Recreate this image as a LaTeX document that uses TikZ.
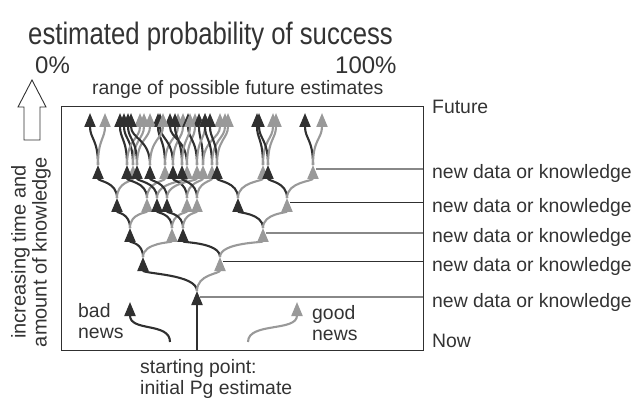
\documentclass[tikz,border=0pt]{standalone}
\usepackage{fontspec}
\setmainfont{Liberation Sans}
\newfontfamily\titlefont{Liberation Sans}[FakeStretch=0.83]
\usetikzlibrary{arrows.meta,calc}
\definecolor{dk}{HTML}{303030}
\definecolor{lg}{HTML}{999999}
\definecolor{tx}{HTML}{333333}
\definecolor{hl}{HTML}{888888}
\newcommand\seg[3]{%
  \path ($(#2)!0.5!(#3)$) coordinate (mid);
  \draw[#1] (#2) .. controls (#2 |- mid) and (#3 |- mid) .. (#3);}
\newcommand\kid[5]{\coordinate (#2) at (#3,#4); \seg{#5}{#1}{#2}}
\begin{document}
\begin{tikzpicture}[x=1pt,y=-1pt,
  blk/.style={draw=dk,line width=2.1pt,-{Triangle[width=11pt,length=14pt]}},
  gry/.style={draw=lg,line width=2.1pt,-{Triangle[width=11pt,length=14pt]}},
  lab/.style={font=\fontsize{19.4}{21}\selectfont,text=tx,inner sep=0pt},
  big/.style={font=\fontsize{24}{26}\selectfont,text=tx,inner sep=0pt},
  frame/.style={draw=dk,line width=1pt},
  hgry/.style={draw=hl,line width=1.2pt},
  hblk/.style={draw=dk,line width=1pt}]
\useasboundingbox (0,0) rectangle (632,398);
% frame
\coordinate (f1) at (61,107);
\coordinate (f2) at (423,350);
\draw[frame] (f1) rectangle (f2);
% texts
\node[anchor=base west,text=tx,inner sep=0pt,font=\titlefont\fontsize{31}{33}\selectfont] (title) at (28,45) {estimated probability of success};
\node[big,anchor=base west] (p0) at (35,74) {0\%};
\node[big,anchor=base west] (p100) at (335,74) {100\%};
\node[lab,anchor=base west] (range) at (92,95) {range of possible future estimates};
\node[lab,anchor=base west] (fut) at (432,114) {Future};
\node[lab,anchor=base west] (now) at (432,347) {Now};
\node[lab,anchor=base west] (d1) at (432,178.5) {new data or knowledge};
\node[lab,anchor=base west] (d2) at (432,212.5) {new data or knowledge};
\node[lab,anchor=base west] (d3) at (432,242.5) {new data or knowledge};
\node[lab,anchor=base west] (d4) at (432,271.5) {new data or knowledge};
\node[lab,anchor=base west] (d5) at (432,307.5) {new data or knowledge};
\node[lab,anchor=base west,align=left] (bad) at (78,338) {bad\\news};
\node[lab,anchor=base west,align=left] (good) at (312,340) {good\\news};
\node[lab,anchor=base west,align=left] (sp) at (140,394) {starting point:\\initial Pg estimate};
\node[font=\fontsize{20}{21}\selectfont,text=tx,inner sep=0pt,rotate=90,align=center] (inc) at (31,252) {increasing time and\\amount of knowledge};
% open arrow
\draw[draw=dk,line width=0.9pt,fill=white] (24,140) -- (24,107) -- (18,107) -- (32,80) -- (46,107) -- (40,107) -- (40,140) -- cycle;
% bad / good news arrows
\coordinate (bn0) at (170,342); \coordinate (bn1) at (130,302);
\coordinate (gn0) at (248,342); \coordinate (gn1) at (297,302);
\draw[blk] (bn0) .. controls (170,322) and (130,332) .. (bn1);
\draw[gry] (gn0) .. controls (248,322) and (297,332) .. (gn1);
% tree
\coordinate (s0) at (197,350);
\coordinate (n) at (197,291);
% horizontal lines
\coordinate (r5) at (423,297); \coordinate (r4) at (423,262);
\coordinate (r3) at (423,233); \coordinate (r2) at (423,203);
\coordinate (r1) at (423,169);
\draw[hgry] (r5) -- ($(n |- r5)+(3,0)$);
\kid{n}{B}{143}{257}{blk} \kid{n}{G}{220}{257}{gry}
\draw[hblk] (r4) -- ($(G |- r4)+(3,0)$);
\draw[blk] (s0) -- (n);
\kid{B}{BB}{130}{228}{blk} \kid{B}{BG}{172}{228}{gry}
\kid{G}{GB}{183}{228}{blk} \kid{G}{GG}{263}{228}{gry}
\draw[hgry] (r3) -- ($(GG |- r3)+(3,0)$);
\kid{BB}{BBB}{117}{198}{blk} \kid{BB}{BBG}{147}{198}{gry}
\kid{BG}{BGB}{157}{198}{blk} \kid{BG}{BGG}{187}{198}{gry}
\kid{GB}{GBB}{167}{198}{blk} \kid{GB}{GBG}{197}{198}{gry}
\kid{GG}{GGB}{238}{198}{blk} \kid{GG}{GGG}{287}{198}{gry}
\draw[hblk] (r2) -- ($(GGG |- r2)+(3,0)$);
\kid{BBB}{BBBB}{98}{165}{blk} \kid{BBB}{BBBG}{133}{165}{gry}
\kid{BBG}{BBGB}{127}{165}{blk} \kid{BBG}{BBGG}{165}{165}{gry}
\kid{BGB}{BGBB}{137}{165}{blk} \kid{BGB}{BGBG}{187}{165}{gry}
\kid{BGG}{BGGB}{173}{165}{blk} \kid{BGG}{BGGG}{203}{165}{gry}
\kid{GBB}{GBBB}{150}{165}{blk} \kid{GBB}{GBBG}{197}{165}{gry}
\kid{GBG}{GBGB}{182}{165}{blk} \kid{GBG}{GBGG}{212}{165}{gry}
\kid{GGB}{GGBB}{217}{165}{blk} \kid{GGB}{GGBG}{263}{165}{gry}
\kid{GGG}{GGGB}{268}{165}{blk} \kid{GGG}{GGGG}{313}{165}{gry}
\draw[hgry] (r1) -- ($(GGGG |- r1)+(3,0)$);
\kid{BBBB}{BBBBB}{90}{113}{blk} \kid{BBBB}{BBBBG}{105}{113}{gry}
\kid{BBBG}{BBBGB}{124}{113}{blk} \kid{BBBG}{BBBGG}{144}{113}{gry}
\kid{BBGB}{BBGBB}{120}{113}{blk} \kid{BBGB}{BBGBG}{140}{113}{gry}
\kid{BBGG}{BBGGB}{158}{113}{blk} \kid{BBGG}{BBGGG}{178}{113}{gry}
\kid{BGBB}{BGBBB}{128}{113}{blk} \kid{BGBB}{BGBBG}{150}{113}{gry}
\kid{BGBG}{BGBGB}{170}{113}{blk} \kid{BGBG}{BGBGG}{195}{113}{gry}
\kid{BGGB}{BGGBB}{160}{113}{blk} \kid{BGGB}{BGGBG}{183}{113}{gry}
\kid{BGGG}{BGGGB}{199}{113}{blk} \kid{BGGG}{BGGGG}{220}{113}{gry}
\kid{GBBB}{GBBBB}{131}{113}{blk} \kid{GBBB}{GBBBG}{163}{113}{gry}
\kid{GBBG}{GBBGB}{188}{113}{blk} \kid{GBBG}{GBBGG}{205}{113}{gry}
\kid{GBGB}{GBGBB}{175}{113}{blk} \kid{GBGB}{GBGBG}{190}{113}{gry}
\kid{GBGG}{GBGGB}{205}{113}{blk} \kid{GBGG}{GBGGG}{225}{113}{gry}
\kid{GGBB}{GGBBB}{210}{113}{blk} \kid{GGBB}{GGBBG}{228}{113}{gry}
\kid{GGBG}{GGBGB}{257}{113}{blk} \kid{GGBG}{GGBGG}{273}{113}{gry}
\kid{GGGB}{GGGBB}{259}{113}{blk} \kid{GGGB}{GGGBG}{276}{113}{gry}
\kid{GGGG}{GGGGB}{305}{113}{blk} \kid{GGGG}{GGGGG}{322}{113}{gry}
\end{tikzpicture}
\end{document}
